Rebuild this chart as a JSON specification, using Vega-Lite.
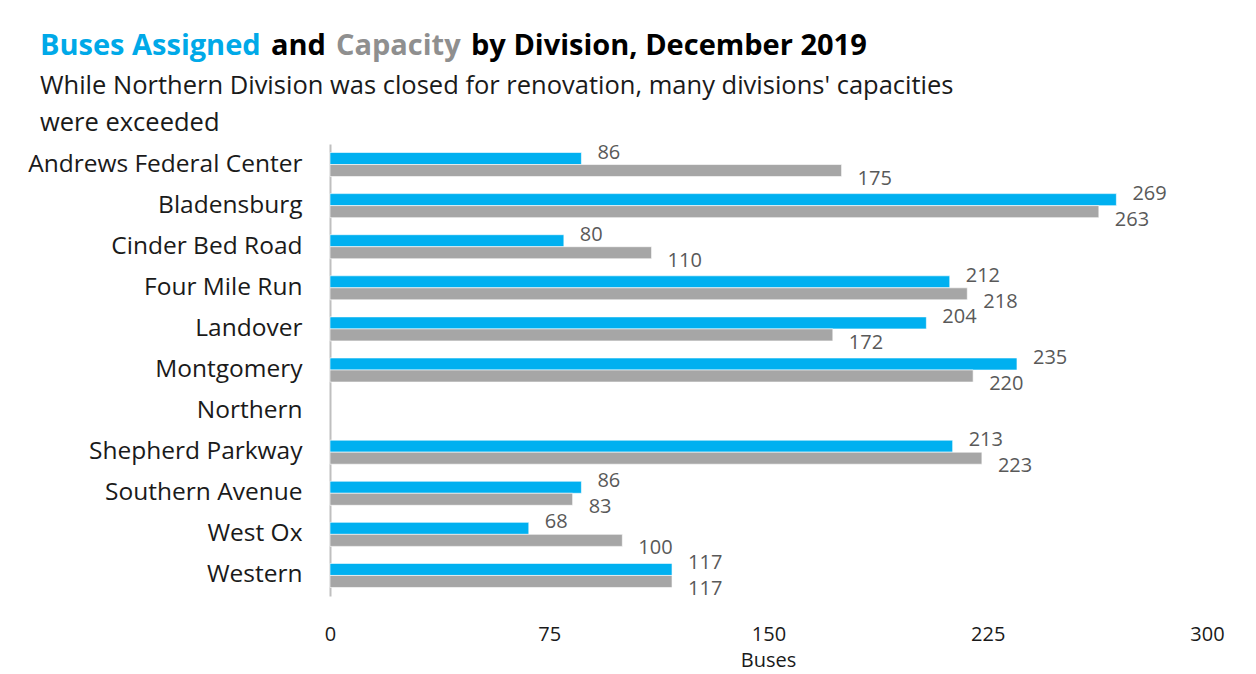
{
  "$schema": "https://vega.github.io/schema/vega-lite/v6.json",
  "background": "white",
  "padding": {"left": 27, "top": 32, "right": 10, "bottom": 5},
  "config": {"view": {"stroke": null}, "font": "Open Sans"},
  "spacing": 12,
  "vconcat": [
    {
      "hconcat": [
        {"width": 1, "height": 1, "data": {"values": []}, "mark": "point",
         "title": {"text": "Buses Assigned", "color": "#00A9E8", "fontSize": 29, "fontWeight": "bold", "anchor": "start", "dx": 11, "offset": 0}},
        {"width": 1, "height": 1, "data": {"values": []}, "mark": "point",
         "title": {"text": "and", "color": "#000000", "fontSize": 29, "fontWeight": "bold", "anchor": "start", "offset": 0}},
        {"width": 1, "height": 1, "data": {"values": []}, "mark": "point",
         "title": {"text": "Capacity", "color": "#8F8F8F", "fontSize": 29, "fontWeight": "bold", "anchor": "start", "offset": 0}},
        {"width": 1, "height": 1, "data": {"values": []}, "mark": "point",
         "title": {"text": "by Division, December 2019", "color": "#000000", "fontSize": 29, "fontWeight": "bold", "anchor": "start", "offset": 0}}
      ],
      "spacing": 10
    },
    {
      "width": 1180,
      "height": 452,
      "title": {
        "text": ["While Northern Division was closed for renovation, many divisions' capacities", "were exceeded"],
        "anchor": "start", "frame": "group", "dx": 11, "fontSize": 25.5, "fontWeight": "normal", "color": "#1A1A1A", "lineHeight": 37, "offset": 6
      },
      "data": {"values": [
        {"division": "Andrews Federal Center", "series": "Buses Assigned", "value": 86},
        {"division": "Andrews Federal Center", "series": "Capacity", "value": 175},
        {"division": "Bladensburg", "series": "Buses Assigned", "value": 269},
        {"division": "Bladensburg", "series": "Capacity", "value": 263},
        {"division": "Cinder Bed Road", "series": "Buses Assigned", "value": 80},
        {"division": "Cinder Bed Road", "series": "Capacity", "value": 110},
        {"division": "Four Mile Run", "series": "Buses Assigned", "value": 212},
        {"division": "Four Mile Run", "series": "Capacity", "value": 218},
        {"division": "Landover", "series": "Buses Assigned", "value": 204},
        {"division": "Landover", "series": "Capacity", "value": 172},
        {"division": "Montgomery", "series": "Buses Assigned", "value": 235},
        {"division": "Montgomery", "series": "Capacity", "value": 220},
        {"division": "Northern", "series": "Buses Assigned", "value": null},
        {"division": "Northern", "series": "Capacity", "value": null},
        {"division": "Shepherd Parkway", "series": "Buses Assigned", "value": 213},
        {"division": "Shepherd Parkway", "series": "Capacity", "value": 223},
        {"division": "Southern Avenue", "series": "Buses Assigned", "value": 86},
        {"division": "Southern Avenue", "series": "Capacity", "value": 83},
        {"division": "West Ox", "series": "Buses Assigned", "value": 68},
        {"division": "West Ox", "series": "Capacity", "value": 100},
        {"division": "Western", "series": "Buses Assigned", "value": 117},
        {"division": "Western", "series": "Capacity", "value": 117}
      ]},
      "encoding": {
        "y": {
          "field": "division", "type": "nominal",
          "scale": {"domain": ["Andrews Federal Center", "Bladensburg", "Cinder Bed Road", "Four Mile Run", "Landover", "Montgomery", "Northern", "Shepherd Parkway", "Southern Avenue", "West Ox", "Western"], "paddingInner": 0.415, "paddingOuter": 0.2075},
          "axis": {"title": null, "offset": -301, "ticks": false, "domainColor": "#BFBFBF", "domainWidth": 2, "labelFontSize": 24.5, "labelColor": "#1A1A1A", "labelPadding": 28, "labelLimit": 400}
        },
        "yOffset": {"field": "series", "type": "nominal", "sort": ["Buses Assigned", "Capacity"], "scale": {"paddingInner": 0}},
        "x": {
          "field": "value", "type": "quantitative",
          "scale": {"domain": [0, 300], "nice": false, "range": [301, 1178]},
          "axis": {"title": "Buses", "values": [0, 75, 150, 225, 300], "grid": false, "domain": false, "ticks": false, "labelFontSize": 20, "labelColor": "#1A1A1A", "labelPadding": 28, "titleFontSize": 20, "titleFontWeight": "normal", "titleColor": "#1A1A1A", "titlePadding": 6, "titleX": 739, "labelFlush": false}
        }
      },
      "layer": [
        {
          "mark": {"type": "bar", "stroke": "white", "strokeWidth": 0.6},
          "encoding": {
            "color": {"field": "series", "type": "nominal", "scale": {"domain": ["Buses Assigned", "Capacity"], "range": ["#00B0F0", "#A6A6A6"]}, "legend": null}
          }
        },
        {
          "transform": [{"filter": "datum.series === 'Buses Assigned'"}],
          "mark": {"type": "text", "align": "left", "baseline": "middle", "dx": 16, "dy": -6, "fontSize": 20, "color": "#595959"},
          "encoding": {"text": {"field": "value", "type": "quantitative"}}
        },
        {
          "transform": [{"filter": "datum.series === 'Capacity'"}],
          "mark": {"type": "text", "align": "left", "baseline": "middle", "dx": 16, "dy": 8, "fontSize": 20, "color": "#595959"},
          "encoding": {"text": {"field": "value", "type": "quantitative"}}
        }
      ]
    }
  ]
}
